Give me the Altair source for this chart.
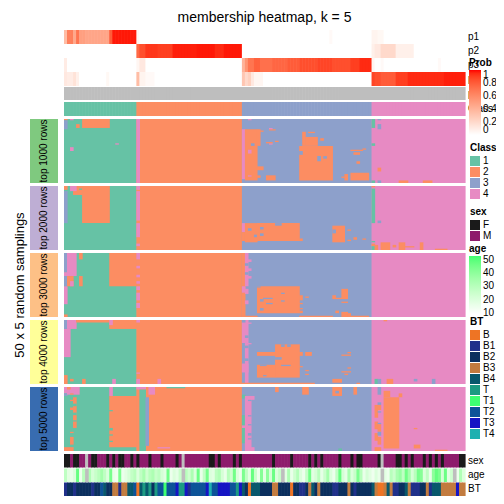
import altair as alt
import pandas as pd

# ------------------------------------------------------------------ data
N_COLS = 133
N_SAMPLINGS = 50
CLASS_NAMES = ["1", "2", "3", "4"]
CLASS_SIZES = [24, 35, 43, 31]          # columns per consensus class

# membership probabilities (first col, last col + 1, value); unlisted columns are 0
P1_RUNS = [(0, 1, 0.35), (1, 3, 0.65), (3, 4, 0.45), (4, 5, 0.7), (5, 7, 0.5),
           (7, 15, 0.47), (15, 16, 0.8), (16, 24, 0.98), (24, 25, 0.05),
           (88, 89, 0.03), (102, 104, 0.06), (104, 106, 0.04)]
P2_RUNS = [(24, 25, 0.75), (25, 27, 0.85), (27, 31, 0.92), (31, 36, 0.9),
           (36, 44, 0.97), (44, 50, 0.98), (50, 53, 0.95), (53, 59, 0.98),
           (102, 103, 0.08), (103, 105, 0.12), (105, 110, 0.2), (110, 116, 0.08)]
P3_RUNS = [(0, 1, 0.1), (24, 25, 0.05), (25, 27, 0.12), (59, 60, 0.4), (60, 61, 0.55),
           (61, 63, 0.7), (63, 65, 0.78), (65, 69, 0.72), (69, 74, 0.76), (74, 78, 0.8),
           (78, 84, 0.85), (84, 89, 0.88), (89, 95, 0.85), (95, 98, 0.9), (98, 102, 0.95),
           (102, 103, 0.05), (105, 106, 0.03), (124, 125, 0.03)]
P4_RUNS = [(0, 1, 0.12), (1, 3, 0.1), (3, 4, 0.15), (4, 5, 0.08), (14, 15, 0.04),
           (24, 25, 0.35), (25, 27, 0.06), (27, 30, 0.03), (59, 60, 0.3), (60, 61, 0.2),
           (61, 62, 0.25), (62, 63, 0.12), (63, 66, 0.05), (102, 103, 0.88),
           (103, 105, 0.85), (105, 110, 0.8), (110, 114, 0.9), (114, 126, 0.95),
           (126, 133, 0.97)]

SLICE_NAMES = ["top 1000 rows", "top 2000 rows", "top 3000 rows",
               "top 4000 rows", "top 5000 rows"]

# class calls that differ from the consensus: (col0, col1, sampling0, sampling1, class)
TOP1000 = [
    (0, 1, 0, 1, "2"), (0, 1, 1, 8, "3"), (2, 3, 0, 1, "4"), (6, 15, 0, 7, "2"),
    (4, 5, 4, 7, "2"), (17, 18, 19, 20, "4"), (2, 3, 22, 25, "4"), (24, 25, 0, 50, "4"),
    (59, 60, 8, 47, "4"), (61, 62, 0, 1, "4"), (60, 64, 8, 48, "2"), (62, 63, 19, 21, "3"),
    (61, 62, 24, 27, "4"), (61, 62, 44, 45, "4"), (64, 65, 8, 21, "2"), (65, 66, 9, 10, "2"),
    (68, 70, 8, 9, "2"), (68, 69, 7, 8, "4"), (68, 69, 19, 20, "4"), (67, 69, 18, 19, "2"),
    (70, 71, 17, 18, "2"), (64, 66, 37, 40, "2"), (64, 65, 44, 46, "2"), (67, 70, 44, 48, "2"),
    (81, 83, 10, 11, "2"), (79, 80, 10, 21, "2"), (80, 84, 14, 21, "2"), (85, 86, 15, 17, "2"),
    (78, 89, 21, 48, "2"), (78, 79, 25, 28, "3"), (84, 85, 29, 33, "3"), (86, 87, 29, 31, "3"),
    (92, 93, 45, 46, "2"), (93, 94, 43, 48, "2"), (95, 101, 42, 48, "2"), (96, 98, 26, 28, "2"),
    (97, 98, 33, 35, "2"), (95, 99, 24, 25, "2"), (99, 100, 23, 24, "2"),
    (102, 103, 0, 7, "1"), (102, 103, 19, 21, "1"), (102, 103, 48, 50, "1"),
    (104, 105, 0, 1, "3"), (104, 105, 4, 8, "3"), (104, 105, 38, 41, "2"),
    (104, 105, 48, 50, "3"), (111, 114, 48, 50, "2"), (119, 122, 48, 50, "2"),
]
TOP2000 = [
    (0, 1, 0, 3, "2"), (0, 1, 4, 29, "3"), (3, 6, 0, 7, "2"), (2, 4, 0, 4, "4"),
    (5, 6, 2, 3, "1"), (6, 15, 0, 29, "2"), (24, 25, 0, 3, "4"), (24, 25, 4, 27, "4"),
    (24, 25, 29, 40, "4"), (24, 25, 45, 47, "4"),
    (59, 60, 29, 36, "4"), (59, 60, 36, 43, "2"), (60, 64, 29, 44, "2"), (61, 62, 33, 35, "3"),
    (63, 64, 38, 40, "3"), (64, 78, 29, 43, "2"), (65, 66, 32, 34, "3"), (65, 66, 37, 39, "3"),
    (70, 72, 29, 31, "3"), (78, 79, 41, 43, "2"), (89, 93, 31, 44, "2"), (89, 90, 34, 37, "3"),
    (94, 95, 34, 35, "2"), (96, 97, 40, 42, "2"), (99, 100, 41, 42, "2"), (94, 95, 42, 43, "2"),
    (102, 103, 0, 1, "2"), (102, 103, 2, 29, "1"), (102, 103, 43, 44, "1"),
    (102, 103, 45, 47, "2"), (102, 103, 47, 50, "1"), (104, 105, 27, 29, "3"),
    (103, 104, 46, 50, "2"), (105, 108, 44, 50, "2"), (109, 110, 46, 48, "2"),
    (111, 113, 44, 50, "2"), (113, 116, 47, 48, "2"), (118, 119, 44, 50, "2"),
    (123, 127, 49, 50, "2"),
]
TOP3000 = [
    (0, 1, 0, 15, "3"), (0, 1, 15, 18, "4"), (0, 1, 18, 26, "3"), (0, 1, 26, 40, "4"),
    (0, 1, 48, 50, "2"), (1, 4, 0, 18, "4"), (1, 3, 18, 26, "2"), (2, 3, 22, 26, "4"),
    (5, 6, 0, 5, "2"), (5, 6, 18, 26, "2"), (15, 24, 0, 26, "2"),
    (24, 25, 0, 5, "4"), (24, 25, 10, 12, "4"), (24, 25, 17, 19, "4"), (24, 25, 22, 24, "4"),
    (24, 25, 26, 29, "4"), (24, 25, 31, 37, "4"), (24, 25, 39, 43, "4"),
    (59, 60, 0, 50, "2"), (59, 60, 26, 31, "4"), (60, 61, 0, 26, "4"), (60, 61, 8, 10, "3"),
    (60, 61, 15, 17, "3"), (61, 62, 5, 7, "4"), (61, 62, 12, 14, "4"), (61, 62, 18, 20, "4"),
    (60, 61, 28, 32, "4"), (60, 61, 37, 40, "4"), (64, 78, 26, 47, "2"), (64, 65, 26, 27, "3"),
    (65, 66, 36, 38, "3"), (66, 69, 35, 36, "3"), (65, 66, 43, 45, "3"), (67, 69, 39, 40, "3"),
    (72, 73, 37, 38, "3"), (72, 73, 31, 32, "3"), (78, 79, 33, 37, "2"), (78, 79, 39, 40, "2"),
    (78, 79, 43, 44, "2"), (78, 79, 45, 47, "2"), (80, 81, 34, 35, "2"), (89, 90, 33, 36, "2"),
    (90, 92, 35, 36, "2"), (92, 94, 28, 36, "2"), (92, 94, 38, 39, "2"), (59, 64, 49, 50, "2"),
    (78, 89, 49, 50, "2"), (90, 91, 45, 47, "2"), (92, 94, 46, 50, "2"), (94, 95, 47, 50, "2"),
    (95, 101, 49, 50, "2"),
]
TOP4000 = [
    (0, 1, 0, 7, "3"), (0, 2, 7, 29, "4"), (0, 1, 43, 50, "2"), (1, 4, 0, 7, "4"),
    (4, 15, 0, 2, "2"), (15, 24, 0, 7, "2"), (15, 16, 0, 4, "4"), (2, 3, 46, 48, "2"),
    (6, 7, 46, 50, "2"), (16, 17, 46, 50, "4"), (24, 25, 0, 2, "4"), (24, 25, 41, 42, "4"),
    (24, 25, 46, 50, "4"), (31, 32, 46, 50, "4"),
    (59, 61, 0, 18, "4"), (59, 60, 0, 2, "3"), (60, 61, 12, 14, "3"), (59, 61, 34, 41, "4"),
    (60, 61, 18, 50, "4"), (60, 61, 20, 22, "3"), (60, 61, 30, 32, "3"), (61, 62, 2, 3, "4"),
    (61, 62, 18, 19, "4"), (64, 70, 25, 28, "2"), (70, 78, 19, 45, "2"), (72, 73, 19, 21, "3"),
    (74, 75, 19, 21, "3"), (70, 72, 29, 31, "3"), (72, 75, 35, 36, "3"), (64, 70, 35, 45, "2"),
    (65, 67, 35, 36, "3"), (66, 67, 43, 44, "3"), (78, 79, 25, 28, "2"), (80, 82, 25, 28, "2"),
    (78, 79, 36, 37, "2"), (80, 81, 39, 40, "2"), (80, 81, 42, 43, "2"), (92, 95, 27, 28, "2"),
    (94, 95, 25, 26, "2"), (94, 95, 37, 38, "2"), (92, 95, 40, 41, "2"), (93, 94, 42, 43, "2"),
    (89, 92, 46, 49, "2"), (59, 83, 49, 50, "2"), (97, 98, 49, 50, "2"),
    (103, 104, 46, 50, "1"), (104, 105, 46, 50, "3"), (107, 109, 46, 50, "2"),
    (116, 117, 46, 48, "3"), (122, 123, 46, 50, "3"), (106, 107, 0, 1, "2"),
]
TOP5000 = [
    (0, 1, 0, 5, "4"), (0, 1, 5, 7, "3"), (1, 5, 0, 6, "4"), (1, 2, 0, 2, "2"),
    (2, 3, 5, 6, "2"), (15, 16, 0, 7, "4"), (15, 24, 7, 47, "2"), (15, 16, 18, 19, "1"),
    (15, 16, 32, 34, "1"), (15, 16, 37, 38, "1"), (15, 16, 42, 43, "1"), (3, 4, 8, 32, "2"),
    (3, 4, 13, 15, "1"), (3, 4, 20, 22, "1"), (3, 4, 26, 27, "1"), (2, 3, 10, 11, "2"),
    (2, 3, 16, 18, "2"), (2, 3, 35, 36, "2"), (2, 3, 39, 45, "2"), (0, 3, 47, 50, "2"),
    (24, 25, 0, 2, "4"), (25, 27, 0, 2, "4"), (25, 27, 2, 50, "1"), (27, 28, 8, 46, "3"),
    (28, 30, 0, 6, "4"), (31, 35, 47, 48, "4"), (34, 40, 0, 1, "1"),
    (59, 60, 6, 9, "1"), (59, 60, 22, 44, "1"), (59, 60, 30, 32, "4"), (60, 62, 7, 50, "4"),
    (61, 62, 10, 11, "3"), (61, 62, 22, 23, "3"), (61, 62, 29, 30, "3"), (61, 62, 36, 38, "3"),
    (61, 62, 40, 41, "3"), (62, 63, 7, 10, "4"), (62, 63, 47, 50, "4"), (70, 71, 0, 4, "2"),
    (79, 81, 0, 6, "2"), (89, 92, 0, 7, "2"), (90, 91, 3, 5, "3"), (96, 97, 0, 6, "2"),
    (91, 92, 48, 50, "1"),
    (103, 104, 14, 24, "2"), (103, 104, 27, 33, "2"), (103, 104, 36, 42, "2"),
    (104, 105, 0, 6, "3"), (104, 105, 12, 14, "3"), (104, 105, 14, 18, "2"),
    (104, 105, 19, 20, "3"), (104, 105, 28, 29, "3"), (104, 105, 29, 35, "2"),
    (104, 105, 35, 38, "3"), (104, 105, 39, 45, "2"), (106, 108, 3, 8, "2"),
    (106, 111, 8, 48, "2"), (111, 112, 5, 8, "2"), (116, 117, 32, 33, "2"),
    (116, 118, 45, 48, "2"), (103, 105, 47, 50, "2"), (123, 127, 49, 50, "2"),
]
SLICE_DEVIATIONS = [TOP1000, TOP2000, TOP3000, TOP4000, TOP5000]

SEX_RUNS = [
    (0, 2, "F"), (2, 3, "M"), (3, 5, "F"), (5, 7, "M"), (7, 8, "NA"), (8, 9, "M"),
    (9, 11, "F"), (11, 14, "M"), (14, 15, "F"), (15, 16, "M"), (16, 17, "F"), (17, 18, "M"),
    (18, 20, "F"), (20, 22, "M"), (22, 23, "F"), (23, 24, "M"), (24, 25, "F"), (25, 28, "M"),
    (28, 29, "F"), (29, 32, "M"), (32, 33, "F"), (33, 37, "M"), (37, 38, "F"), (38, 39, "M"),
    (39, 40, "NA"), (40, 48, "M"), (48, 50, "F"), (50, 51, "M"), (51, 52, "F"), (52, 56, "M"),
    (56, 57, "F"), (57, 58, "M"), (58, 59, "F"), (59, 69, "M"), (69, 70, "F"), (70, 75, "M"),
    (75, 76, "F"), (76, 81, "M"), (81, 82, "F"), (82, 83, "M"), (83, 84, "F"), (84, 85, "M"),
    (85, 86, "F"), (86, 91, "M"), (91, 92, "F"), (92, 95, "M"), (95, 96, "F"), (96, 97, "M"),
    (97, 99, "F"), (99, 104, "M"), (104, 105, "F"), (105, 106, "NA"), (106, 110, "M"),
    (110, 112, "F"), (112, 113, "M"), (113, 114, "F"), (114, 115, "M"), (115, 116, "F"),
    (116, 119, "M"), (119, 120, "F"), (120, 121, "M"), (121, 122, "F"), (122, 123, "M"),
    (123, 124, "F"), (124, 125, "M"), (125, 126, "F"), (126, 131, "M"), (131, 133, "F"),
]
AGE = [28, 18, 16, 20, 48, 15, 30, None, 32, 22, 26, 30, 35, 28, 20, 45, 16, 14, 44, 15,
       18, 22, 27, 30, 20, 28, 34, 24, 30, 33, 26, 29, 22, 18, 46, 15, 20, 17, 25, None,
       30, 24, 33, 20, 47, 16, 27, 45, 20, 18, 29, 32, 22, 16, 30, 24, 46, 20, 15, 44,
       28, 18, 48, 25, 15, 42, 18, 40, 22, 47, 20, 26, None, 18, 33, 16, 24, 31, 20, 15,
       27, 46, 18, 22, 30, 17, 25, 35, 20, 15, 28, 48, 22, 17, 34, 20, 26, 44, 30, 16,
       22, 18, 14, 20, 16, None, 18, 15, 30, 25, 34, 38, 28, 46, 35, 22, 30, 45, 42, 20,
       28, 16, 40, 48, 44, 22, 47, 18, 24, None, 15, 32, 20]
BT_RUNS = [
    (0, 1, "B1"), (1, 3, "B2"), (3, 4, "B1"), (4, 9, "B2"), (9, 10, "B1"), (10, 12, "B2"),
    (12, 13, "T2"), (13, 14, "B4"), (14, 16, "B2"), (16, 18, "B3"), (18, 19, "B1"),
    (19, 21, "B3"), (21, 23, "B4"), (23, 24, "T2"), (24, 25, "B"), (25, 26, "B4"),
    (26, 27, "T"), (27, 28, "B4"), (28, 29, "T"), (29, 30, "B2"), (30, 31, "T"),
    (31, 33, "T2"), (33, 34, "T1"), (34, 37, "T2"), (37, 38, "T3"), (38, 40, "T"),
    (40, 41, "T3"), (41, 42, "B1"), (42, 47, "T2"), (47, 48, "T3"), (48, 49, "T4"),
    (49, 51, "T2"), (51, 55, "T3"), (55, 57, "T2"), (57, 58, "T"), (58, 59, "T3"),
    (59, 60, "B4"), (60, 61, "B2"), (61, 62, "B"), (62, 65, "B4"), (65, 69, "B2"),
    (69, 71, "B3"), (71, 75, "B2"), (75, 76, "B"), (76, 78, "B2"), (78, 80, "B1"),
    (80, 81, "B2"), (81, 82, "B3"), (82, 83, "B4"), (83, 84, "B2"), (84, 85, "B3"),
    (85, 89, "B2"), (89, 91, "B1"), (91, 94, "B2"), (94, 95, "B3"), (95, 96, "B2"),
    (96, 97, "B1"), (97, 102, "B2"), (102, 103, "B4"), (103, 104, "B3"), (104, 106, "B"),
    (106, 107, "B3"), (107, 108, "B4"), (108, 109, "B3"), (109, 111, "B1"), (111, 113, "B2"),
    (113, 114, "B4"), (114, 115, "B3"), (115, 118, "B1"), (118, 120, "B2"), (120, 121, "B3"),
    (121, 122, "B1"), (122, 125, "B4"), (125, 130, "B3"), (130, 131, "T3"), (131, 133, "B3"),
]

# ------------------------------------------------------------------ styles
FONT = "Liberation Sans"
CLASS_COLORS = ["#66C2A5", "#FC8D62", "#8DA0CB", "#E78AC3"]
SLICE_COLORS = ["#7FC97F", "#BEAED4", "#FDC086", "#FFFF99", "#386CB0"]
SEX_NAMES = ["F", "M", "NA"]
SEX_COLORS = ["#1A1A1A", "#8E1B6C", "#BEBEBE"]
BT_NAMES = ["B", "B1", "B2", "B3", "B4", "T", "T1", "T2", "T3", "T4"]
BT_COLORS = ["#EE7424", "#20308A", "#0B2F5E", "#C27B3F", "#08586C",
             "#1C9B82", "#3EFF72", "#0D5398", "#1515C4", "#1EB0B0"]
NA_GREY = "#BEBEBE"
SEAM = 0.6   # each cell reaches this many pixels into its right neighbour (hides seams)

# layout in pixels (plot area 401 x 466)
W, H = 401, 466
ROW_H = 14
P_TOPS = [0, 14, 28, 42]
P5_TOP = 57
CLASS_TOP = 72
SLICE_TOP0, SLICE_H, SLICE_STEP = 89, 64, 67
BOTTOM_H = 13.5
SEX_TOP, AGE_TOP, BT_TOP = 424, 438.5, 452.5

# ------------------------------------------------------------------ tables
def expand(runs, default):
    vals = [default] * N_COLS
    for c0, c1, v in runs:
        for c in range(c0, c1):
            vals[c] = v
    return vals

col_class = []
for name, size in zip(CLASS_NAMES, CLASS_SIZES):
    col_class += [name] * size
class_starts = [sum(CLASS_SIZES[:i]) for i in range(len(CLASS_SIZES))]

prob_rows = []
for top, runs in zip(P_TOPS, [P1_RUNS, P2_RUNS, P3_RUNS, P4_RUNS]):
    for c, v in enumerate(expand(runs, 0.0)):
        prob_rows.append(dict(x0=c, x1=c + 1, y0=top, y1=top + ROW_H, prob=v))
prob_df = pd.DataFrame(prob_rows)

p5_df = pd.DataFrame([dict(x0=c, x1=c + 1, y0=P5_TOP, y1=P5_TOP + 13) for c in range(N_COLS)])

cls_rows = [dict(x0=c, x1=c + 1, y0=CLASS_TOP, y1=CLASS_TOP + ROW_H, cls=k)
            for c, k in enumerate(col_class)]
row_h = SLICE_H / N_SAMPLINGS
for s, devs in enumerate(SLICE_DEVIATIONS):
    top = SLICE_TOP0 + s * SLICE_STEP
    for name, start, size in zip(CLASS_NAMES, class_starts, CLASS_SIZES):
        cls_rows.append(dict(x0=start, x1=start + size, y0=top, y1=top + SLICE_H, cls=name))
    for c0, c1, r0, r1, k in devs:
        cls_rows.append(dict(x0=c0, x1=c1, y0=top + r0 * row_h, y1=top + r1 * row_h, cls=k))
cls_df = pd.DataFrame(cls_rows)

sex_df = pd.DataFrame([dict(x0=c, x1=c + 1, y0=SEX_TOP, y1=SEX_TOP + BOTTOM_H, sex=v)
                       for c, v in enumerate(expand(SEX_RUNS, "NA"))])
age_df = pd.DataFrame([dict(x0=c, x1=c + 1, y0=AGE_TOP, y1=AGE_TOP + BOTTOM_H, age=v)
                       for c, v in enumerate(AGE) if v is not None])
age_na_df = pd.DataFrame([dict(x0=c, x1=c + 1, y0=AGE_TOP, y1=AGE_TOP + BOTTOM_H)
                          for c, v in enumerate(AGE) if v is None])
bt_df = pd.DataFrame([dict(x0=c, x1=c + 1, y0=BT_TOP, y1=BT_TOP + BOTTOM_H, bt=v)
                      for c, v in enumerate(expand(BT_RUNS, "B2"))])

slice_df = pd.DataFrame([dict(label=n, y0=SLICE_TOP0 + i * SLICE_STEP,
                              y1=SLICE_TOP0 + i * SLICE_STEP + SLICE_H,
                              yc=SLICE_TOP0 + i * SLICE_STEP + SLICE_H / 2)
                         for i, n in enumerate(SLICE_NAMES)])
right_df = pd.DataFrame(dict(
    text=["p1", "p2", "p3", "p4", "p5", "Class", "sex", "age", "BT"],
    yc=[t + ROW_H / 2 for t in P_TOPS] + [P5_TOP + 6.5, CLASS_TOP + 7,
                                         SEX_TOP + BOTTOM_H / 2, AGE_TOP + BOTTOM_H / 2,
                                         BT_TOP + BOTTOM_H / 2]))
rowtitle_df = pd.DataFrame(dict(text=["50 x 5 random samplings"],
                                yc=[SLICE_TOP0 + (4 * SLICE_STEP + SLICE_H) / 2]))

# ------------------------------------------------------------------ chart
X_SCALE = alt.Scale(domain=[0, N_COLS], nice=False, zero=False)
Y_SCALE = alt.Scale(domain=[0, H], nice=False, zero=False, reverse=True)


def rects(df):
    return alt.Chart(df).mark_rect(x2Offset=SEAM).encode(
        x=alt.X("x0:Q", scale=X_SCALE, axis=None),
        x2="x1:Q",
        y=alt.Y("y0:Q", scale=Y_SCALE, axis=None),
        y2="y1:Q",
    )


LEG = dict(orient="none", direction="vertical", titleFontSize=10, titleFontWeight="bold",
           labelFontSize=10, titleColor="black", labelColor="black", padding=0,
           titleFont=FONT, labelFont=FONT, labelOverlap=False)
SYM = dict(symbolType="square", symbolSize=100, rowPadding=1, labelOffset=3,
           symbolStrokeWidth=0, titlePadding=3)

prob_layer = rects(prob_df).encode(color=alt.Color(
    "prob:Q",
    scale=alt.Scale(domain=[0, 1], range=["#FFFFFF", "#FF0000"], interpolate="lab"),
    legend=alt.Legend(title="Prob", legendX=405, legendY=28, gradientLength=65,
                      gradientThickness=12, values=[0, 0.2, 0.4, 0.6, 0.8, 1], format="~g",
                      labelOffset=2, titlePadding=2, gradientStrokeWidth=0, **LEG)))
p5_layer = rects(p5_df).encode(color=alt.value(NA_GREY))
class_layer = rects(cls_df).encode(color=alt.Color(
    "cls:N", scale=alt.Scale(domain=CLASS_NAMES, range=CLASS_COLORS),
    legend=alt.Legend(title="Class", legendX=406, legendY=113, **SYM, **LEG)))
sex_layer = rects(sex_df).encode(color=alt.Color(
    "sex:N", scale=alt.Scale(domain=SEX_NAMES, range=SEX_COLORS),
    legend=alt.Legend(title="sex", legendX=406, legendY=177, values=["F", "M"], **SYM, **LEG)))
age_layer = rects(age_df).encode(color=alt.Color(
    "age:Q", scale=alt.Scale(domain=[9, 53], range=["#FFFFFF", "#40FF70"], interpolate="lab"),
    legend=alt.Legend(title="age", legendX=405, legendY=214, gradientLength=58,
                      gradientThickness=12, values=[10, 20, 30, 40, 50], labelOffset=2,
                      titlePadding=2, gradientStrokeWidth=0, **LEG)))
age_na_layer = rects(age_na_df).encode(color=alt.value(NA_GREY))
bt_layer = rects(bt_df).encode(color=alt.Color(
    "bt:N", scale=alt.Scale(domain=BT_NAMES, range=BT_COLORS),
    legend=alt.Legend(title="BT", legendX=406, legendY=287, **SYM, **LEG)))

box_layer = alt.Chart(slice_df).mark_rect().encode(
    x=alt.value(-34), x2=alt.value(-6),
    y=alt.Y("y0:Q", scale=Y_SCALE, axis=None), y2="y1:Q",
    color=alt.Color("label:N", scale=alt.Scale(domain=SLICE_NAMES, range=SLICE_COLORS),
                    legend=None))
box_text = alt.Chart(slice_df).mark_text(angle=270, fontSize=10, font=FONT, color="black",
                                         baseline="middle", align="center").encode(
    x=alt.value(-20), y=alt.Y("yc:Q", scale=Y_SCALE, axis=None), text="label:N")
rowtitle = alt.Chart(rowtitle_df).mark_text(angle=270, fontSize=13, font=FONT, color="black",
                                            baseline="middle", align="center").encode(
    x=alt.value(-44), y=alt.Y("yc:Q", scale=Y_SCALE, axis=None), text="text:N")
right_text = alt.Chart(right_df).mark_text(align="left", baseline="middle", fontSize=10,
                                           font=FONT, color="black").encode(
    x=alt.value(404), y=alt.Y("yc:Q", scale=Y_SCALE, axis=None), text="text:N")

chart = alt.layer(
    prob_layer, p5_layer, class_layer, sex_layer, age_layer, age_na_layer, bt_layer,
    box_layer, box_text, rowtitle, right_text,
).resolve_scale(color="independent").properties(
    width=W, height=H,
    title=alt.TitleParams("membership heatmap, k = 5", fontSize=14, fontWeight="normal",
                          font=FONT, anchor="middle", offset=5, color="black"),
    autosize=alt.AutoSizeParams(type="none"),
    padding={"left": 56, "top": 22, "right": 31, "bottom": 0},
).configure(font=FONT).configure_view(stroke=None)

chart.save("out.html", embed_options={"renderer": "svg", "actions": False})
